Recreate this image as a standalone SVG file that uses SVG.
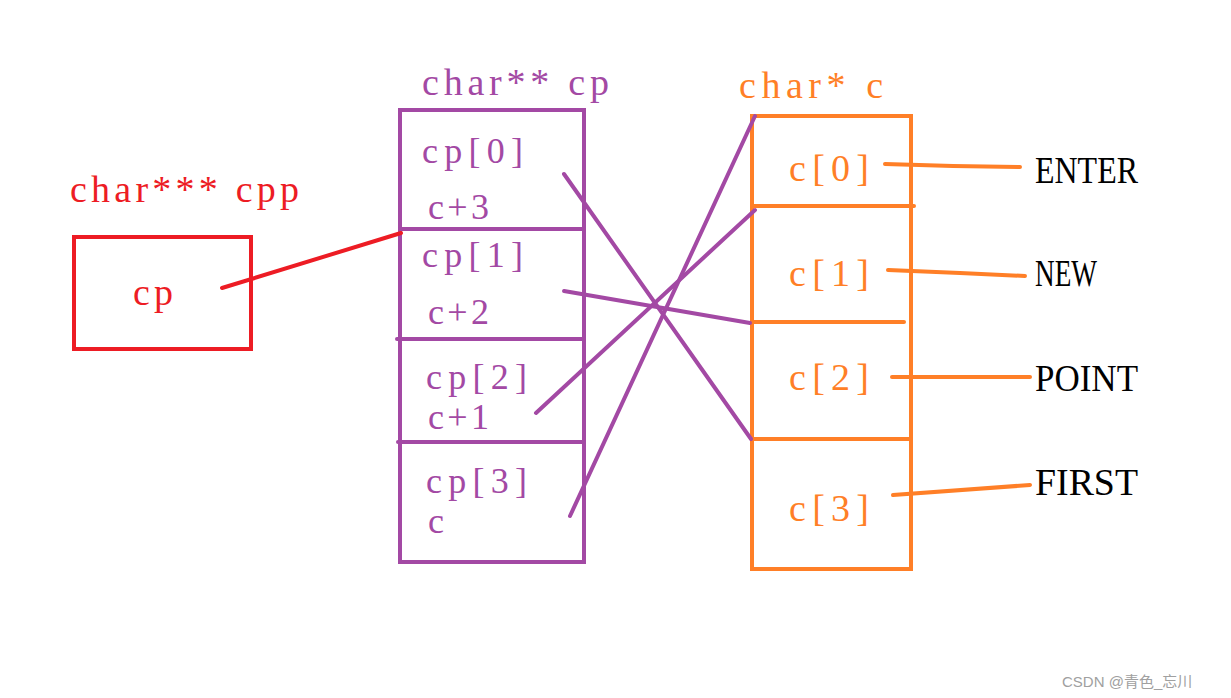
<svg xmlns="http://www.w3.org/2000/svg" width="1231" height="698" viewBox="0 0 1231 698">
<style>
text{font-family:"Liberation Serif","DejaVu Serif",serif;font-size:38px}
.s{font-size:36px}
.r{fill:#ED1C24}.p{fill:#A349A4}.o{fill:#FF7F27}.k{fill:#000}
.box{fill:none;stroke-width:4}
.rl{stroke:#ED1C24;stroke-width:4;stroke-linecap:round;fill:none}
.pl{stroke:#A349A4;stroke-width:4;stroke-linecap:round;fill:none}
.ol{stroke:#FF7F27;stroke-width:4;stroke-linecap:round;fill:none}
.wm{font-family:"Liberation Sans","Noto Sans CJK SC",sans-serif;font-size:15px;fill:#A0A0A0}
</style>
<rect width="1231" height="698" fill="#fff"/>
<g id="cpp">
<text class="r" x="70" y="202" textLength="229" lengthAdjust="spacing">char*** cpp</text>
<rect class="box" x="74" y="237" width="177" height="112" stroke="#ED1C24"/>
<text class="r" x="133" y="305" textLength="40" lengthAdjust="spacing">cp</text>
</g>
<g id="cp">
<text class="p" x="422" y="95" textLength="187" lengthAdjust="spacing">char** cp</text>
<rect class="box" x="400" y="110" width="184" height="452" stroke="#A349A4"/>
<line class="pl" x1="400" y1="229" x2="584" y2="229"/>
<line class="pl" x1="397" y1="339" x2="584" y2="339"/>
<line class="pl" x1="398" y1="442" x2="584" y2="442"/>
<text class="p s" x="422" y="163" textLength="101" lengthAdjust="spacing">cp[0]</text>
<text class="p s" x="428" y="219" textLength="61" lengthAdjust="spacing">c+3</text>
<text class="p s" x="422" y="267" textLength="101" lengthAdjust="spacing">cp[1]</text>
<text class="p s" x="428" y="324" textLength="61" lengthAdjust="spacing">c+2</text>
<text class="p s" x="426" y="389" textLength="101" lengthAdjust="spacing">cp[2]</text>
<text class="p s" x="428" y="429" textLength="61" lengthAdjust="spacing">c+1</text>
<text class="p s" x="426" y="493" textLength="101" lengthAdjust="spacing">cp[3]</text>
<text class="p s" x="428" y="533">c</text>
</g>
<g id="c">
<text class="o" x="739" y="98" textLength="144" lengthAdjust="spacing">char* c</text>
<rect class="box" x="752" y="116" width="159" height="453" stroke="#FF7F27"/>
<line class="ol" x1="752" y1="206" x2="914" y2="206"/>
<line class="ol" x1="752" y1="322" x2="904" y2="322"/>
<line class="ol" x1="752" y1="439" x2="911" y2="439"/>
<text class="o" x="789" y="181" textLength="80" lengthAdjust="spacing">c[0]</text>
<text class="o" x="789" y="286" textLength="80" lengthAdjust="spacing">c[1]</text>
<text class="o" x="789" y="390" textLength="80" lengthAdjust="spacing">c[2]</text>
<text class="o" x="789" y="521" textLength="80" lengthAdjust="spacing">c[3]</text>
</g>
<g id="strings">
<text class="k" x="1035" y="183" textLength="103" lengthAdjust="spacingAndGlyphs">ENTER</text>
<text class="k" x="1035" y="286" textLength="62" lengthAdjust="spacingAndGlyphs">NEW</text>
<text class="k" x="1035" y="391" textLength="103" lengthAdjust="spacingAndGlyphs">POINT</text>
<text class="k" x="1035" y="495" textLength="103" lengthAdjust="spacingAndGlyphs">FIRST</text>
</g>
<g id="connectors">
<line class="rl" x1="222" y1="288" x2="401" y2="233"/>
<line class="pl" x1="564" y1="174" x2="751" y2="439"/>
<line class="pl" x1="564" y1="291" x2="750" y2="323"/>
<line class="pl" x1="536" y1="413" x2="755" y2="210"/>
<line class="pl" x1="570" y1="516" x2="755" y2="116"/>
<polyline class="ol" points="885,164 953,166 1020,167"/>
<polyline class="ol" points="888,270 960,273 1025,276"/>
<line class="ol" x1="892" y1="377" x2="1030" y2="377"/>
<line class="ol" x1="893" y1="495" x2="1030" y2="485"/>
</g>
<text class="wm" x="1062" y="687">CSDN @青色_忘川</text>
</svg>
